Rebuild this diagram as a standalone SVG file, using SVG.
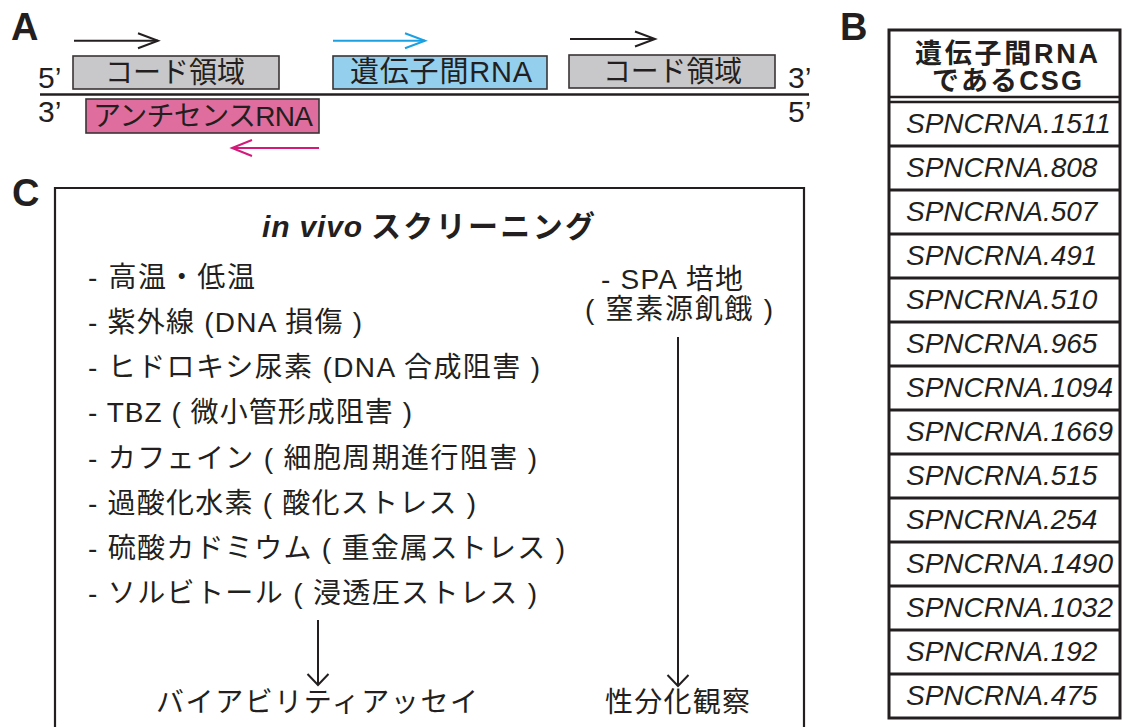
<svg xmlns="http://www.w3.org/2000/svg" width="1122" height="727" viewBox="0 0 1122 727">
<defs>
<style>
text{font-family:"Liberation Sans","Noto Sans CJK JP",sans-serif;fill:#231f20}
.lab{font-size:38px;font-weight:bold}
.t27{font-size:28px}
.tb29{font-size:29px}
.end{font-size:30px}
.hd{font-size:27px;font-weight:bold}
.row{font-size:28px;font-style:italic}
.ttl{font-size:30px;font-weight:bold}
.box{stroke:#3a3536;stroke-width:1.6}
.tb{fill:none;stroke:#231f20;stroke-width:3}
</style>
<marker id="hk" markerUnits="userSpaceOnUse" markerWidth="24" markerHeight="20" refX="20" refY="8" orient="auto" overflow="visible"><path d="M0,0.5 L20,8 L0,15.5" fill="none" stroke="#231f20" stroke-width="2"/></marker>
<marker id="hb" markerUnits="userSpaceOnUse" markerWidth="24" markerHeight="20" refX="20" refY="8" orient="auto" overflow="visible"><path d="M0,0.5 L20,8 L0,15.5" fill="none" stroke="#1ba1e2" stroke-width="2"/></marker>
<marker id="hp" markerUnits="userSpaceOnUse" markerWidth="24" markerHeight="20" refX="20" refY="8" orient="auto" overflow="visible"><path d="M0,0 L20,8 L0,16" fill="none" stroke="#d4197a" stroke-width="2"/></marker>
<marker id="hv" markerUnits="userSpaceOnUse" markerWidth="14" markerHeight="24" refX="11" refY="10.5" orient="auto" overflow="visible"><path d="M0,0 L11,10.5 L0,21" fill="none" stroke="#231f20" stroke-width="2"/></marker>
</defs>

<!-- Panel labels -->
<text class="lab" x="11" y="40">A</text>
<text class="lab" x="840" y="40">B</text>
<text class="lab" x="12" y="206">C</text>

<!-- Panel A -->
<g id="strand">
<line x1="40" y1="94.5" x2="809" y2="94.5" stroke="#231f20" stroke-width="2.6"/>
<text class="end" x="38" y="88">5’</text>
<text class="end" x="38" y="122">3’</text>
<text class="end" x="788" y="88">3’</text>
<text class="end" x="788" y="122">5’</text>
</g>
<g id="coding1">
<rect class="box" x="73" y="56" width="206" height="33" fill="#c8c8ca"/>
<text class="tb29" x="105" y="82.5" textLength="140" lengthAdjust="spacingAndGlyphs">コード領域</text>
</g>
<g id="intergenic">
<rect class="box" x="333" y="56" width="214" height="33" fill="#94cfee"/>
<text class="tb29" x="350" y="82" textLength="182" lengthAdjust="spacing">遺伝子間RNA</text>
</g>
<g id="coding2">
<rect class="box" x="569" y="55" width="206" height="33" fill="#c8c8ca"/>
<text class="tb29" x="603" y="81.5" textLength="139" lengthAdjust="spacingAndGlyphs">コード領域</text>
</g>
<g id="antisense">
<rect class="box" x="86" y="99" width="233" height="34" fill="#df6d9e"/>
<text class="t27" x="93" y="126" textLength="220" lengthAdjust="spacing">アンチセンスRNA</text>
</g>

<!-- Panel B -->
<g id="csg-table">
<rect class="tb" x="889" y="30" width="231" height="688"/>
<text class="hd" x="915" y="62.5" textLength="183" lengthAdjust="spacing">遺伝子間RNA</text>
<text class="hd" x="932" y="90" textLength="150" lengthAdjust="spacing">であるCSG</text>
<line x1="889" y1="97" x2="1120" y2="97" stroke="#231f20" stroke-width="2.5"/>
<line x1="889" y1="102" x2="1120" y2="102" stroke="#231f20" stroke-width="2.5"/>
<g stroke="#231f20" stroke-width="3">
<line x1="889" y1="146" x2="1120" y2="146"/>
<line x1="889" y1="190" x2="1120" y2="190"/>
<line x1="889" y1="234" x2="1120" y2="234"/>
<line x1="889" y1="278" x2="1120" y2="278"/>
<line x1="889" y1="322" x2="1120" y2="322"/>
<line x1="889" y1="366" x2="1120" y2="366"/>
<line x1="889" y1="410" x2="1120" y2="410"/>
<line x1="889" y1="454" x2="1120" y2="454"/>
<line x1="889" y1="498" x2="1120" y2="498"/>
<line x1="889" y1="542" x2="1120" y2="542"/>
<line x1="889" y1="586" x2="1120" y2="586"/>
<line x1="889" y1="630" x2="1120" y2="630"/>
<line x1="889" y1="674" x2="1120" y2="674"/>
</g>
<text class="row" x="906" y="133">SPNCRNA.1511</text>
<text class="row" x="906" y="177">SPNCRNA.808</text>
<text class="row" x="906" y="221">SPNCRNA.507</text>
<text class="row" x="906" y="265">SPNCRNA.491</text>
<text class="row" x="906" y="309">SPNCRNA.510</text>
<text class="row" x="906" y="353">SPNCRNA.965</text>
<text class="row" x="906" y="397">SPNCRNA.1094</text>
<text class="row" x="906" y="441">SPNCRNA.1669</text>
<text class="row" x="906" y="485">SPNCRNA.515</text>
<text class="row" x="906" y="529">SPNCRNA.254</text>
<text class="row" x="906" y="573">SPNCRNA.1490</text>
<text class="row" x="906" y="617">SPNCRNA.1032</text>
<text class="row" x="906" y="661">SPNCRNA.192</text>
<text class="row" x="906" y="705">SPNCRNA.475</text>
</g>

<!-- Panel C -->
<g id="screening-box">
<path d="M55,728 V188 H804 V728" fill="none" stroke="#231f20" stroke-width="2.2"/>
<text class="ttl" x="262" y="237" font-style="italic" textLength="100" lengthAdjust="spacing">in vivo</text>
<text class="ttl" x="371" y="237" textLength="224" lengthAdjust="spacing">スクリーニング</text>
</g>
<g id="stress-list">
<text class="t27" x="88" y="287" textLength="167" lengthAdjust="spacing">- 高温・低温</text>
<text class="t27" x="88" y="332" textLength="274" lengthAdjust="spacing">- 紫外線 (DNA 損傷 )</text>
<text class="t27" x="88" y="377" textLength="452" lengthAdjust="spacing">- ヒドロキシ尿素 (DNA 合成阻害 )</text>
<text class="t27" x="88" y="422" textLength="324" lengthAdjust="spacing">- TBZ ( 微小管形成阻害 )</text>
<text class="t27" x="88" y="467.5" textLength="449" lengthAdjust="spacing">- カフェイン ( 細胞周期進行阻害 )</text>
<text class="t27" x="88" y="512.5" textLength="388" lengthAdjust="spacing">- 過酸化水素 ( 酸化ストレス )</text>
<text class="t27" x="88" y="558" textLength="477" lengthAdjust="spacing">- 硫酸カドミウム ( 重金属ストレス )</text>
<text class="t27" x="88" y="603" textLength="449" lengthAdjust="spacing">- ソルビトール ( 浸透圧ストレス )</text>
</g>
<g id="spa">
<text class="t27" x="601" y="289" textLength="142" lengthAdjust="spacing">- SPA 培地</text>
<text class="t27" x="585" y="319" textLength="188" lengthAdjust="spacing">( 窒素源飢餓 )</text>
</g>
<g id="viability">
<text class="t27" x="156" y="712" textLength="322" lengthAdjust="spacing">バイアビリティアッセイ</text>
</g>
<g id="sexual-diff">
<text class="t27" x="605" y="712" textLength="145" lengthAdjust="spacing">性分化観察</text>
</g>

<!-- Connectors -->
<g id="connectors" fill="none" stroke-width="2">
<line x1="74" y1="40.7" x2="158" y2="40.7" stroke="#231f20" marker-end="url(#hk)"/>
<line x1="333" y1="40.7" x2="425" y2="40.7" stroke="#1ba1e2" marker-end="url(#hb)"/>
<line x1="570" y1="39" x2="655" y2="39" stroke="#231f20" marker-end="url(#hk)"/>
<line x1="319" y1="148" x2="232" y2="148" stroke="#d4197a" marker-end="url(#hp)"/>
<line x1="318" y1="620" x2="318" y2="685" stroke="#231f20" marker-end="url(#hv)"/>
<line x1="678" y1="337" x2="678" y2="686" stroke="#231f20" marker-end="url(#hv)"/>
</g>
</svg>
